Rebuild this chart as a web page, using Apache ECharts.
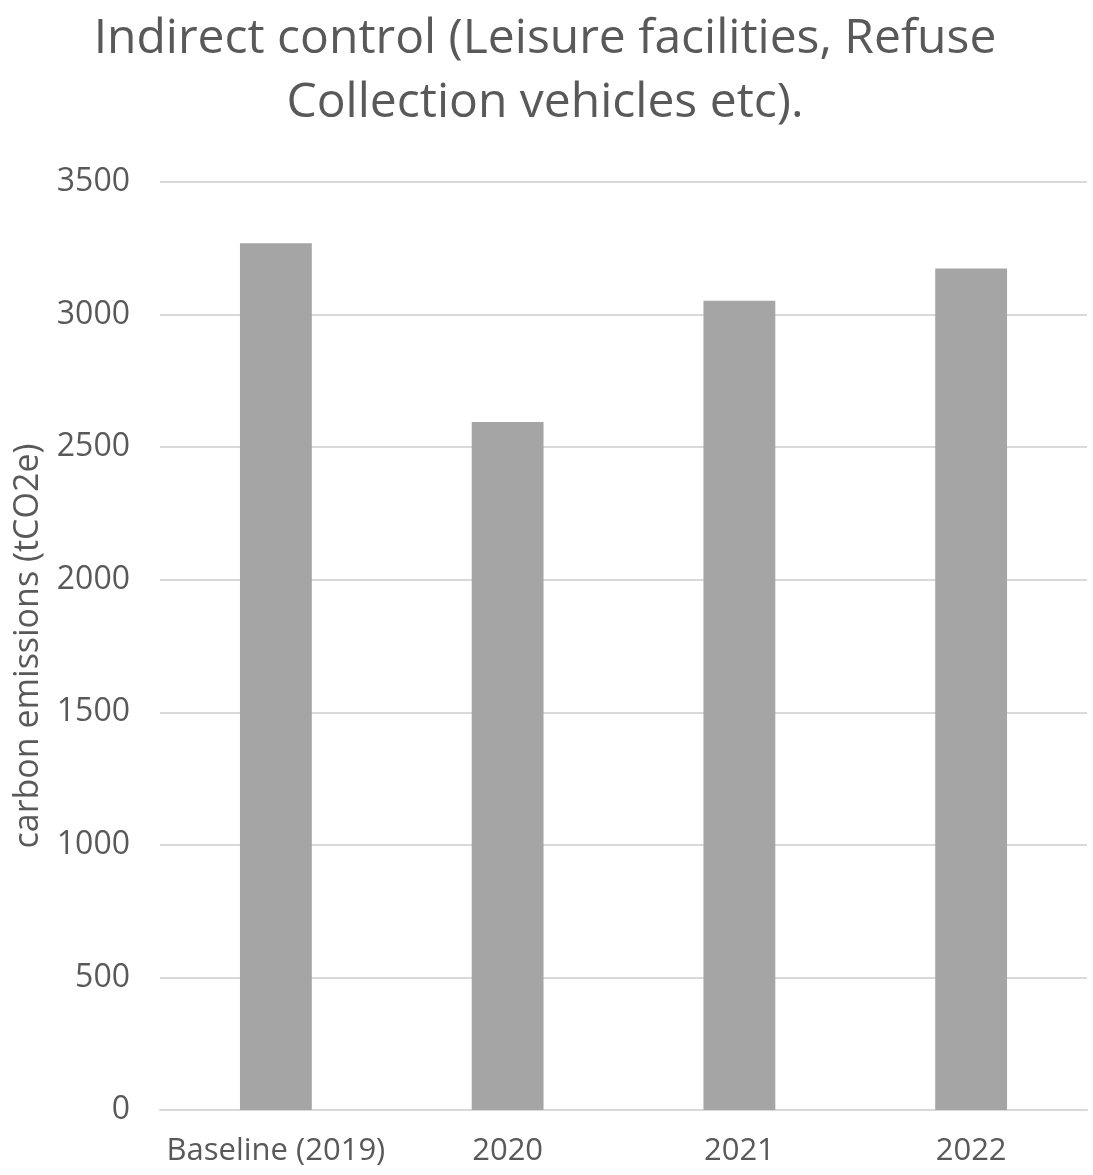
<!DOCTYPE html>
<html>
<head>
<meta charset="utf-8">
<script src="https://cdn.jsdelivr.net/npm/echarts@6/dist/echarts.min.js"></script>
<style>
html,body{margin:0;padding:0;background:#fff;}
#chart{width:1093px;height:1175px;}
</style>
</head>
<body>
<div id="chart"></div>
<script>
var categories = ['Baseline (2019)', '2020', '2021', '2022'];
var emissions = [3269, 2595, 3052, 3174];
var titleText = 'Indirect control (Leisure facilities, Refuse\nCollection vehicles etc).';
var yAxisName = 'carbon emissions (tCO2e)';

var chart = echarts.init(document.getElementById('chart'));
chart.setOption({
  animation: false,
  backgroundColor: '#ffffff',
  title: {
    text: titleText,
    left: 540,
    textAlign: 'center',
    top: 2,
    textStyle: {
      fontFamily: 'Open Sans',
      fontSize: 48,
      fontWeight: 'normal',
      color: '#595959',
      lineHeight: 64
    }
  },
  grid: { left: 160, right: 6, top: 182, bottom: 65 },
  xAxis: {
    type: 'category',
    data: categories,
    axisLine: { show: true, lineStyle: { color: '#d9d9d9', width: 2 } },
    axisTick: { show: false },
    axisLabel: {
      interval: 0,
      fontFamily: 'Open Sans',
      fontSize: 31,
      color: '#595959',
      margin: 26
    }
  },
  yAxis: {
    type: 'value',
    min: 0,
    max: 3500,
    interval: 500,
    name: yAxisName,
    nameLocation: 'middle',
    nameGap: 115,
    nameTextStyle: {
      fontFamily: 'Open Sans',
      fontSize: 34,
      color: '#595959'
    },
    axisLine: { show: false },
    axisTick: { show: false },
    axisLabel: {
      fontFamily: 'Open Sans',
      fontSize: 32,
      color: '#595959',
      margin: 30,
      formatter: function (v) { return String(v); }
    },
    splitLine: { lineStyle: { color: '#d9d9d9', width: 2 } }
  },
  series: [{
    type: 'bar',
    data: emissions,
    barWidth: '31%',
    itemStyle: { color: '#a5a5a5' }
  }]
});
</script>
</body>
</html>
